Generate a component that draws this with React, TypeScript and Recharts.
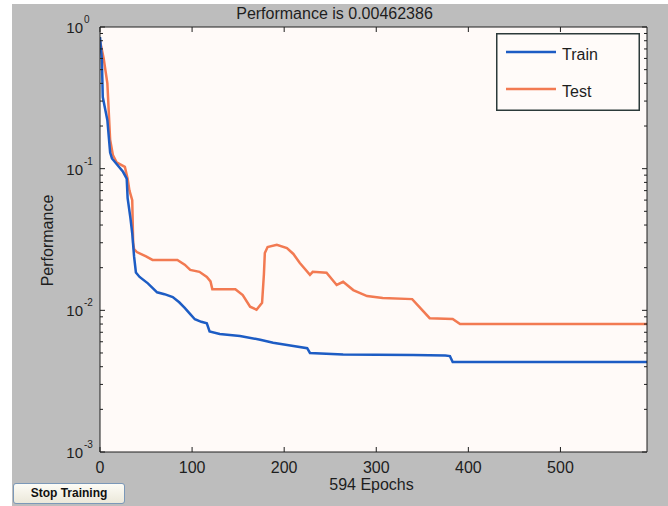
import React from 'react';
import { LineChart, Line, XAxis, YAxis, Legend } from 'recharts';

const trainEpochs = [0, 2, 3, 8, 11, 13, 16, 25, 29, 30, 33, 35, 37, 39, 43, 52, 62, 70, 79, 86, 92, 98, 103, 110, 116, 119, 130, 152, 174, 188, 210, 225, 228, 264, 300, 340, 375, 380, 383, 594];
const trainValues = [0.85, 0.6, 0.32, 0.22, 0.13, 0.118, 0.112, 0.095, 0.085, 0.062, 0.045, 0.035, 0.024, 0.0185, 0.0172, 0.0155, 0.0134, 0.013, 0.0124, 0.0114, 0.0104, 0.0094, 0.00865, 0.0083, 0.0081, 0.0071, 0.0068, 0.0066, 0.0062, 0.0059, 0.0056, 0.0054, 0.005, 0.00487, 0.00485, 0.00483, 0.0048, 0.00475, 0.00432, 0.00432];

const testEpochs = [0, 4, 8, 11, 14, 18, 27, 30, 32, 35, 36, 37, 40, 50, 57, 84, 92, 98, 108, 116, 120, 122, 147, 155, 163, 170, 176, 178, 179, 182, 192, 203, 210, 217, 228, 231, 246, 257, 264, 275, 290, 307, 339, 358, 383, 391, 594];
const testValues = [0.8, 0.6, 0.4, 0.16, 0.125, 0.111, 0.103, 0.085, 0.07, 0.06, 0.03, 0.027, 0.0258, 0.024, 0.0227, 0.0227, 0.021, 0.0193, 0.0187, 0.0172, 0.016, 0.0141, 0.0141, 0.0128, 0.0106, 0.0101, 0.0113, 0.018, 0.0254, 0.028, 0.029, 0.0275, 0.025, 0.0216, 0.0178, 0.0187, 0.0184, 0.0151, 0.0159, 0.0139, 0.0126, 0.0122, 0.012, 0.0088, 0.0087, 0.008, 0.008];

const xTicks = [0, 100, 200, 300, 400, 500];
const yMajorTicks = [0.001, 0.01, 0.1, 1];
const yMajorExponents = ['-3', '-2', '-1', '0'];
const yMinorTicks = [
  0.002, 0.003, 0.004, 0.005, 0.006, 0.007, 0.008, 0.009,
  0.02, 0.03, 0.04, 0.05, 0.06, 0.07, 0.08, 0.09,
  0.2, 0.3, 0.4, 0.5, 0.6, 0.7, 0.8, 0.9,
];
const title = 'Performance is 0.00462386';
const xLabel = '594 Epochs';
const yLabel = 'Performance';
const legendOrder = ['Train', 'Test'];

const trainRows = trainEpochs.map((e, i) => ({ epoch: e, value: trainValues[i] }));
const testRows = testEpochs.map((e, i) => ({ epoch: e, value: testValues[i] }));
const yAllTicks = [...yMajorTicks, ...yMinorTicks].sort((a, b) => a - b);

const FONT = '"Liberation Sans", Arial, Helvetica, sans-serif';
const INK = '#1e1e1e';
const BLUE = '#1d5cc4';
const ORANGE = '#f27a52';

const majorIndex = (v: number) =>
  yMajorTicks.findIndex((t) => Math.abs(Math.log10(t) - Math.log10(v)) < 1e-6);

const LeftTick = (p: any) => {
  const { x, y, payload } = p;
  const idx = majorIndex(payload.value);
  const major = idx >= 0;
  return (
    <g>
      <line x1={x} x2={x + (major ? 5 : 3)} y1={y} y2={y} stroke={INK} strokeWidth={1} />
      {major && (
        <g fontFamily={FONT} fill={INK}>
          <text x={x - 17} y={y + 6} textAnchor="end" fontSize={15}>10</text>
          <text x={x - 16} y={y - 4} textAnchor="start" fontSize={10}>{yMajorExponents[idx]}</text>
        </g>
      )}
    </g>
  );
};

const RightTick = (p: any) => {
  const { x, y, payload } = p;
  const major = majorIndex(payload.value) >= 0;
  return <line x1={x} x2={x - (major ? 5 : 3)} y1={y} y2={y} stroke={INK} strokeWidth={1} />;
};

const BottomTick = (p: any) => {
  const { x, y, payload } = p;
  return (
    <g>
      <line x1={x} x2={x} y1={y} y2={y - 5} stroke={INK} strokeWidth={1} />
      <text x={x} y={y + 21} textAnchor="middle" fontSize={16} fontFamily={FONT} fill={INK}>
        {payload.value}
      </text>
    </g>
  );
};

const TopTick = (p: any) => {
  const { x, y } = p;
  return <line x1={x} x2={x} y1={y} y2={y + 5} stroke={INK} strokeWidth={1} />;
};

const LegendBox = (props: any) => {
  const items = (props.payload || [])
    .filter((it: any) => it.type !== 'none')
    .sort((a: any, b: any) => legendOrder.indexOf(a.value) - legendOrder.indexOf(b.value));
  return (
    <svg width={144} height={78} style={{ display: 'block' }}>
      <rect x={0.75} y={0.75} width={142.5} height={76.5} fill="#fffbf9" stroke="#2c3a3a" strokeWidth={1.5} />
      {items.map((it: any, i: number) => (
        <g key={it.value}>
          <line x1={10} x2={60} y1={19 + i * 37} y2={19 + i * 37} stroke={it.color} strokeWidth={2.5} />
          <text x={66} y={27 + i * 37} fontSize={16} fontFamily={FONT} fill={INK}>
            {it.value}
          </text>
        </g>
      ))}
    </svg>
  );
};

export default function App() {
  return (
    <div style={{ position: 'absolute', left: 0, top: 0, width: 668, height: 506, background: '#ffffff', overflow: 'hidden' }}>
      <div style={{ position: 'absolute', left: 12, top: 4, width: 656, height: 502, background: '#bdbdbd' }} />
      <div style={{ position: 'absolute', left: 100, top: 27, width: 547, height: 425, background: '#fffaf8' }} />
      <div style={{ position: 'absolute', left: 0, top: 0 }}>
        <LineChart width={668} height={506} margin={{ top: 26, right: 20, bottom: 53, left: 99 }}>
          <XAxis
            xAxisId="bottom"
            dataKey="epoch"
            type="number"
            domain={[0, 594]}
            allowDataOverflow
            ticks={xTicks}
            interval={0}
            height={1}
            tickSize={0}
            tickMargin={0}
            tickLine={false}
            axisLine={{ stroke: INK, strokeWidth: 1 }}
            tick={<BottomTick />}
            label={(lp: any) => {
              const vb = lp.viewBox || {};
              return (
                <text x={(vb.x ?? 100) + (vb.width ?? 547) / 2 - 2} y={490} textAnchor="middle" fontSize={16} fontFamily={FONT} fill={INK}>
                  {xLabel}
                </text>
              );
            }}
          />
          <XAxis
            xAxisId="top"
            orientation="top"
            dataKey="epoch"
            type="number"
            domain={[0, 594]}
            allowDataOverflow
            ticks={xTicks}
            interval={0}
            height={1}
            tickSize={0}
            tickMargin={0}
            tickLine={false}
            axisLine={{ stroke: INK, strokeWidth: 1 }}
            tick={<TopTick />}
            label={() => (
              <text x={334.5} y={19} textAnchor="middle" fontSize={16} fontFamily={FONT} fill={INK}>
                {title}
              </text>
            )}
          />
          <YAxis
            yAxisId="left"
            scale="log"
            type="number"
            domain={[0.001, 1]}
            allowDataOverflow
            ticks={yAllTicks}
            interval={0}
            width={1}
            tickSize={0}
            tickMargin={0}
            tickLine={false}
            axisLine={{ stroke: INK, strokeWidth: 1 }}
            tick={<LeftTick />}
            label={(lp: any) => {
              const vb = lp.viewBox || {};
              const cy = (vb.y ?? 27) + (vb.height ?? 425) / 2 + 1;
              return (
                <text x={53} y={cy} transform={`rotate(-90 53 ${cy})`} textAnchor="middle" fontSize={16} fontFamily={FONT} fill={INK}>
                  {yLabel}
                </text>
              );
            }}
          />
          <YAxis
            yAxisId="right"
            orientation="right"
            scale="log"
            type="number"
            domain={[0.001, 1]}
            allowDataOverflow
            ticks={yAllTicks}
            interval={0}
            width={1}
            tickSize={0}
            tickMargin={0}
            tickLine={false}
            axisLine={{ stroke: INK, strokeWidth: 1 }}
            tick={<RightTick />}
          />
          <Legend
            layout="vertical"
            align="center"
            verticalAlign="middle"
            wrapperStyle={{ left: 496, top: 33, width: 144, height: 78 }}
            content={<LegendBox />}
          />
          <Line
            data={testRows}
            dataKey="value"
            name="Test"
            xAxisId="bottom"
            yAxisId="left"
            type="linear"
            stroke={ORANGE}
            strokeWidth={2.5}
            dot={false}
            activeDot={false}
            isAnimationActive={false}
          />
          <Line
            data={trainRows}
            dataKey="value"
            name="Train"
            xAxisId="bottom"
            yAxisId="left"
            type="linear"
            stroke={BLUE}
            strokeWidth={2.5}
            dot={false}
            activeDot={false}
            isAnimationActive={false}
          />
          <Line
            data={trainRows}
            dataKey="value"
            name="_axes"
            xAxisId="top"
            yAxisId="right"
            stroke="none"
            legendType="none"
            dot={false}
            activeDot={false}
            isAnimationActive={false}
          />
        </LineChart>
      </div>
      <div
        style={{
          position: 'absolute',
          left: 13,
          top: 483,
          width: 110,
          height: 19,
          border: '1px solid #7b98b8',
          borderRadius: 3,
          background: 'linear-gradient(#fdfcf6, #ebe8da)',
          fontFamily: FONT,
          fontSize: 12,
          fontWeight: 'bold',
          color: '#111',
          textAlign: 'center',
          lineHeight: '19px',
        }}
      >
        Stop Training
      </div>
    </div>
  );
}
